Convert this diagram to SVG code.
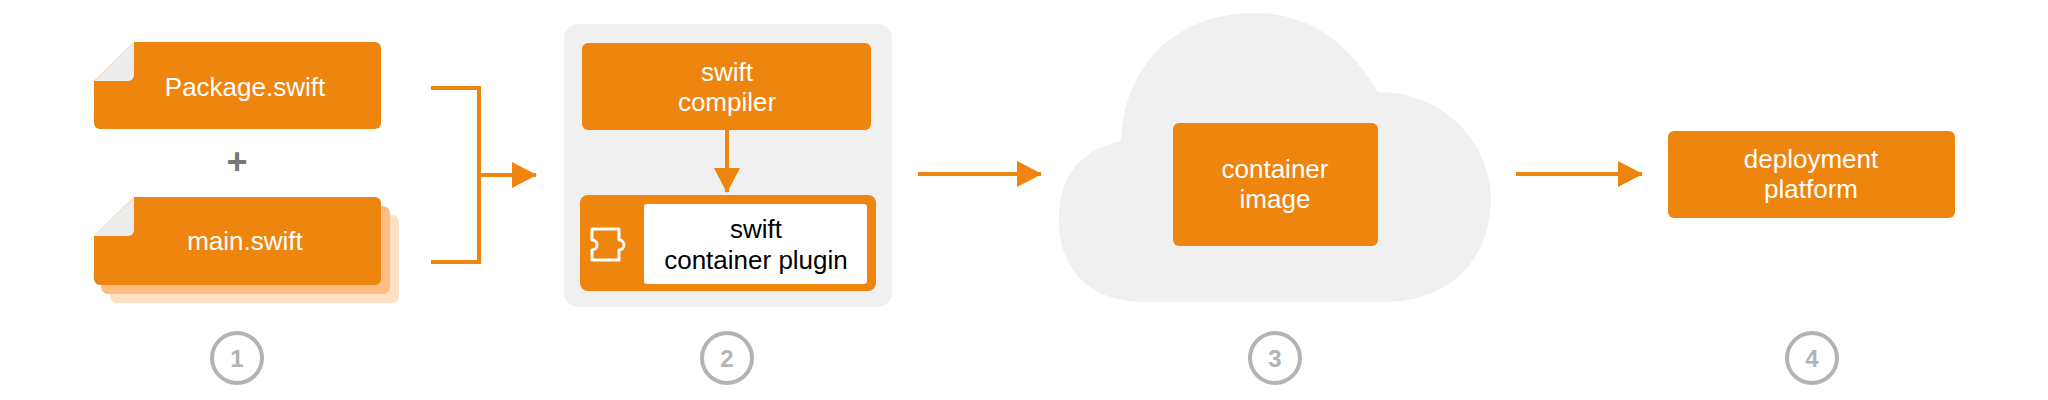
<svg xmlns="http://www.w3.org/2000/svg" width="2048" height="400" viewBox="0 0 2048 400">
<style>
.o{fill:#ee850e}
.t{font-family:"Liberation Sans",Arial,sans-serif;font-size:26px;fill:#fff;text-anchor:middle}
.d{font-family:"Liberation Sans",Arial,sans-serif;font-size:26px;fill:#000;text-anchor:middle}
.c{fill:#fff;stroke:#b3b3b3;stroke-width:4}
.n{font-family:"Liberation Sans",Arial,sans-serif;font-size:24px;font-weight:bold;fill:#b3b3b3;text-anchor:middle}
.l{fill:none;stroke:#ee850e;stroke-width:4}
</style>
<defs>
<marker id="a" viewBox="0 0 26 26" markerWidth="26" markerHeight="26" refX="24" refY="13" orient="auto" markerUnits="userSpaceOnUse"><path d="M0,0 L25,13 L0,26 Z" fill="#ee850e"/></marker>
</defs>
<g id="step1">
<g id="package">
<path class="o" d="M134,42 H375 a6,6 0 0 1 6,6 V123 a6,6 0 0 1 -6,6 H100 a6,6 0 0 1 -6,-6 V81 Z"/>
<path d="M94,81 L134,42 V75 a6,6 0 0 1 -6,6 Z" fill="#ececec"/>
<text class="t" x="245" y="96">Package.swift</text>
</g>
<text x="237" y="174" font-family="Liberation Sans,Arial,sans-serif" font-size="36" font-weight="bold" fill="#777" text-anchor="middle">+</text>
<g id="main">
<path fill="#fde0c4" d="M150,215 H392 a7,7 0 0 1 7,7 V296 a7,7 0 0 1 -7,7 H117 a7,7 0 0 1 -7,-7 V254 Z"/>
<path fill="#fbbd82" d="M141,206 H383 a7,7 0 0 1 7,7 V287 a7,7 0 0 1 -7,7 H108 a7,7 0 0 1 -7,-7 V245 Z"/>
<path class="o" d="M134,197 H375 a6,6 0 0 1 6,6 V279 a6,6 0 0 1 -6,6 H100 a6,6 0 0 1 -6,-6 V236 Z"/>
<path d="M94,236 L134,197 V230 a6,6 0 0 1 -6,6 Z" fill="#ececec"/>
<text class="t" x="245" y="250">main.swift</text>
</g>
</g>
<g id="step2">
<rect x="564" y="24" width="328" height="283" rx="14" fill="#f0f0f0"/>
<g id="compiler">
<rect class="o" x="582" y="43" width="289" height="87" rx="6"/>
<text class="t" x="727" y="81">swift</text>
<text class="t" x="727" y="111">compiler</text>
</g>
<g id="plugin">
<rect class="o" x="580" y="195" width="296" height="96" rx="8"/>
<rect x="644" y="204" width="223" height="80" rx="3" fill="#fff"/>
<path d="M592,229 H619 V240 a4,4 0 0 1 0,10 V260 H592 V250 a4,4 0 0 0 0,-10 Z" fill="none" stroke="#fff" stroke-width="3" stroke-linejoin="round"/>
<text class="d" x="756" y="238">swift</text>
<text class="d" x="756" y="269">container plugin</text>
</g>
</g>
<g id="step3">
<path d="M1145,302 C1090,302 1059,270 1059,220 C1059,180 1075,152 1121,141 C1125,60 1180,13 1255,13 C1320,13 1355,55 1378,92 C1450,92 1491,150 1491,197 C1491,260 1450,302 1383,302 Z" fill="#f0f0f0"/>
<g id="image">
<rect class="o" x="1173" y="123" width="205" height="123" rx="6"/>
<text class="t" x="1275" y="178">container</text>
<text class="t" x="1275" y="208">image</text>
</g>
</g>
<g id="deploy">
<rect class="o" x="1668" y="131" width="287" height="87" rx="6"/>
<text class="t" x="1811" y="168">deployment</text>
<text class="t" x="1811" y="198">platform</text>
</g>
<g id="connectors">
<path class="l" d="M431,88 H479 V262 H431"/>
<path class="l" d="M479,175 H536" marker-end="url(#a)"/>
<path class="l" d="M727,130 V192" marker-end="url(#a)"/>
<path class="l" d="M918,174 H1041" marker-end="url(#a)"/>
<path class="l" d="M1516,174 H1642" marker-end="url(#a)"/>
</g>
<g id="numbers">
<circle class="c" cx="237" cy="358" r="25"/><text class="n" x="237" y="367">1</text>
<circle class="c" cx="727" cy="358" r="25"/><text class="n" x="727" y="367">2</text>
<circle class="c" cx="1275" cy="358" r="25"/><text class="n" x="1275" y="367">3</text>
<circle class="c" cx="1812" cy="358" r="25"/><text class="n" x="1812" y="367">4</text>
</g>
</svg>
